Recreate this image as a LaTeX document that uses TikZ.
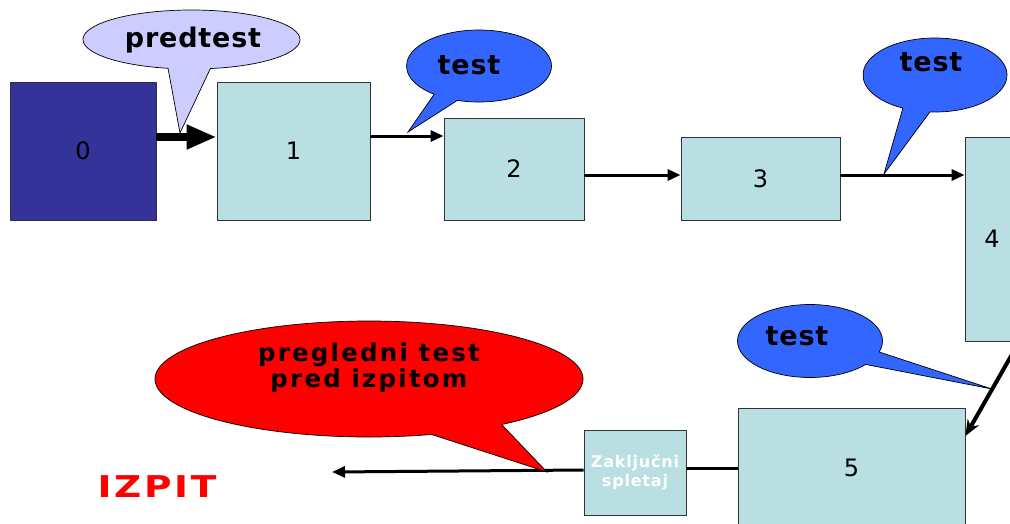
\documentclass[tikz,border=0pt]{standalone}
\usepackage{fontspec}
\setmainfont{DejaVu Sans}
\newfontfamily\callfont{DejaVu Sans}[LetterSpace=3]
\newfontfamily\redfont{DejaVu Sans}[LetterSpace=9]
\newfontfamily\exfont{DejaVu Sans}[LetterSpace=9,FakeStretch=1.25]
\newfontfamily\zakfont{DejaVu Sans}[LetterSpace=5]
\usetikzlibrary{arrows.meta}
\definecolor{boxteal}{HTML}{B9DFE2}
\definecolor{boxnavy}{HTML}{333399}
\definecolor{lav}{HTML}{CCCCFF}
\definecolor{cblue}{HTML}{3366FF}
\definecolor{cred}{HTML}{FF0000}
\begin{document}
\begin{tikzpicture}[x=1pt,y=1pt,
  box/.style={draw=black!80, line width=0.8pt, fill=boxteal, inner sep=0pt,
    font=\fontsize{24}{27}\selectfont},
  conn/.style={line width=3pt, -{Triangle[length=13pt,width=11pt]}},
  bubble/.style={draw=black, line width=0.7pt},
  calltext/.style={inner sep=0pt, font=\callfont\bfseries\fontsize{27}{30}\selectfont},
]
\useasboundingbox (0,0) rectangle (1010,-523);

% boxes
\node[box, fill=boxnavy, minimum width=146pt, minimum height=138pt] (b0) at (83,-151) {0};
\node[box, minimum width=153pt, minimum height=138pt] (b1) at (293.5,-151) {1};
\node[box, minimum width=140pt, minimum height=102pt] (b2) at (514,-169) {2};
\node[box, minimum width=159pt, minimum height=83pt] (b3) at (760.5,-178.5) {3};
\node[box, minimum width=54pt, minimum height=204pt] (b4) at (992,-239) {4};
\node[box, minimum width=227pt, minimum height=120pt] (b5) at (851.5,-468) {5};
\node[box, minimum width=102pt, minimum height=85pt, text=white, align=center,
  font=\zakfont\bfseries\fontsize{16}{19}\selectfont] (zak) at (635,-472.5) {Zaključni\\spletaj};

\node[inner sep=0pt, text=cred, font=\exfont\bfseries\fontsize{30}{32}\selectfont] (izpit) at (157,-487) {IZPIT};

% helper coordinates
\coordinate (y137) at (0,-137);
\coordinate (y136) at (0,-136);
\coordinate (y175) at (0,-175);
\coordinate (y436) at (0,-436);
\coordinate (y468) at (0,-468);
\coordinate (y470) at (0,-470);
\coordinate (endl) at (332,-472);

% connectors
\draw[line width=8pt, -{Triangle[length=30pt,width=23pt]}] (b0.east |- y137) -- (b1.west |- y137);
\draw[conn] (b1.east |- y136) -- (b2.west |- y136);
\draw[conn] (b2.east |- y175) -- (b3.west |- y175);
\draw[conn] (b3.east |- y175) -- (b4.west |- y175);
\draw[line width=4pt, -{Stealth[length=16pt,width=13pt]}] (b4.south east) -- (b5.east |- y436);
\draw[line width=3pt] (b5.west |- y468) -- (zak.east |- y468);
\draw[conn] (zak.west |- y470) -- (endl);

% callouts
\filldraw[bubble, fill=lav] (191.5,-39.5) ++(280:108.5pt and 29.5pt)
  arc[start angle=280, end angle=617.5, x radius=108.5pt, y radius=29.5pt] -- (180,-133) -- cycle;
\node[calltext] (tpre) at (193,-40) {predtest};

\filldraw[bubble, fill=cblue] (479,-66) ++(252.7:72.5pt and 36pt)
  arc[start angle=252.7, end angle=591.8, x radius=72.5pt, y radius=36pt] -- (408,-132) -- cycle;
\node[calltext] (t1) at (469,-65) {test};

\filldraw[bubble, fill=cblue] (935,-75) ++(266:72pt and 37pt)
  arc[start angle=266, end angle=603.5, x radius=72pt, y radius=37pt] -- (884,-174) -- cycle;
\node[calltext] (t2) at (931,-62) {test};

\filldraw[bubble, fill=cblue] (810,-341) ++(342.5:72.5pt and 36.5pt)
  arc[start angle=342.5, end angle=680.1, x radius=72.5pt, y radius=36.5pt] -- (992,-389) -- cycle;
\node[calltext] (t3) at (797,-336) {test};

\filldraw[bubble, fill=cred] (369,-379) ++(308.3:214pt and 58pt)
  arc[start angle=308.3, end angle=647, x radius=214pt, y radius=58pt] -- (547,-472) -- cycle;
\node[inner sep=0pt, align=center, font=\redfont\bfseries\fontsize{24.5}{26}\selectfont] (tred) at (369,-368) {pregledni test\\pred izpitom};
\end{tikzpicture}
\end{document}
